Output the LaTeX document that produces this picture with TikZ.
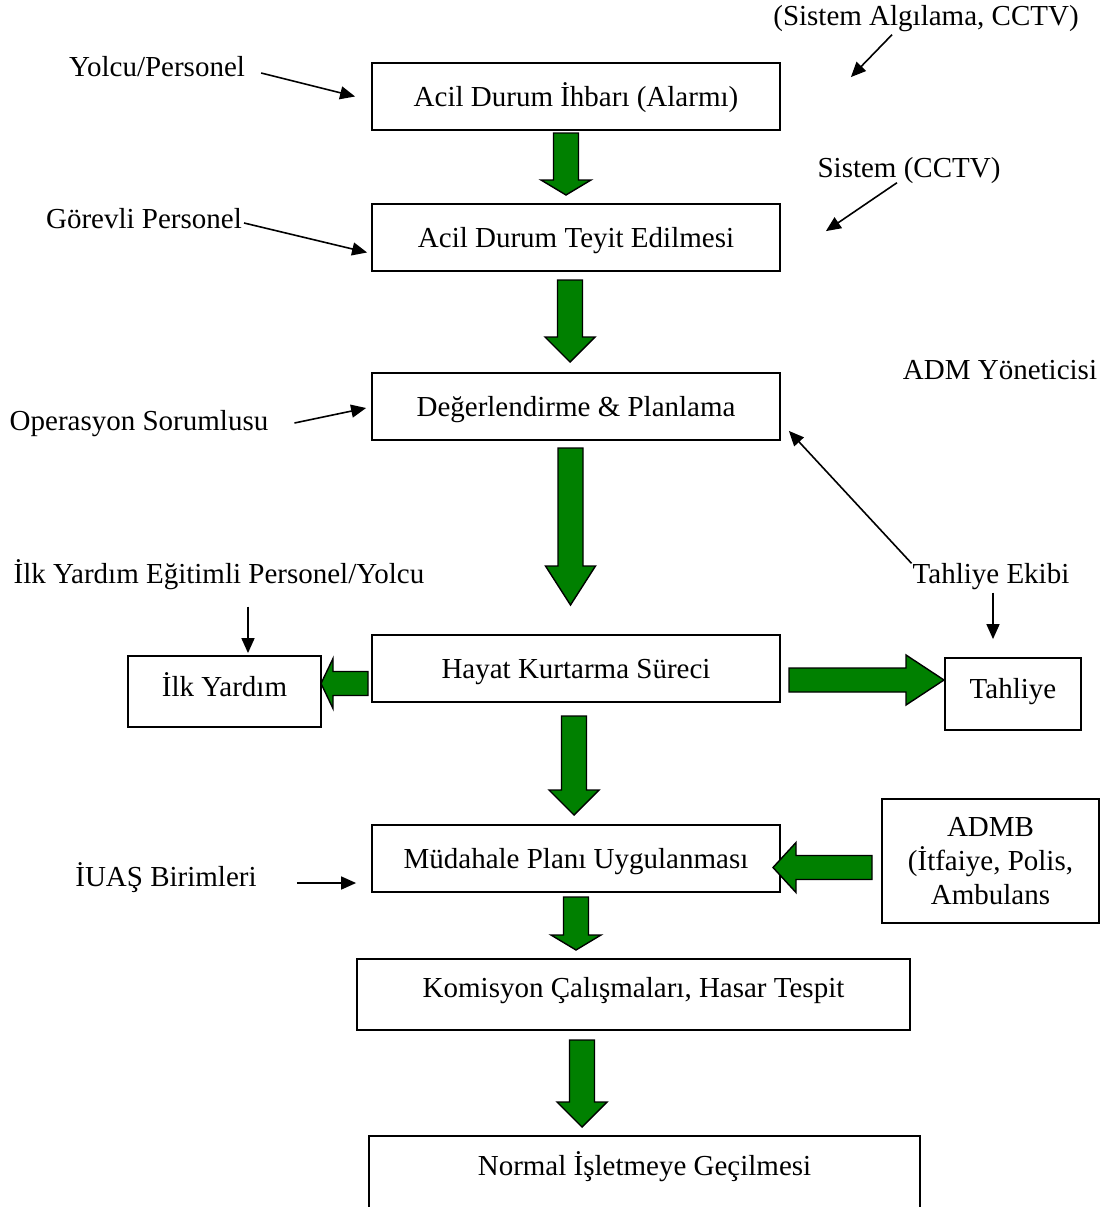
\documentclass[tikz,border=0pt]{standalone}
\usepackage{fontspec}
\setmainfont{Liberation Serif}
\usetikzlibrary{arrows.meta, calc}
\definecolor{arrowgreen}{RGB}{0,128,0}
\tikzstyle{step_box} = [
    draw=black,
    line width=1.8pt,
    inner sep=0pt,
    align=center,
    text height=20pt,
    text depth=7pt
]
\tikzstyle{main_box} = [
    step_box,
    minimum width=408,
    minimum height=67,
    text height=27pt
]
\tikzstyle{side_label} = [
    inner sep=2pt,
    text height=20pt,
    text depth=7pt
]
\tikzstyle{pointer} = [
    line width=1.6pt,
    -{Triangle[length=15pt,width=13pt]}
]
\tikzstyle{green_arrow} = [
    draw=black,
    line width=1.4pt,
    fill=arrowgreen,
    line join=miter
]
% block arrows: x, top, neck, tip  /  y, start, neck, tip
\newcommand{\flowdown}[4]{%
    \draw[green_arrow] (#1-12.5,#2) -- (#1+12.5,#2) -- (#1+12.5,#3) -- (#1+25,#3)
        -- (#1,#4) -- (#1-25,#3) -- (#1-12.5,#3) -- cycle;}
\newcommand{\flowside}[4]{%
    \draw[green_arrow] (#2,#1-12) -- (#3,#1-12) -- (#3,#1-25) -- (#4,#1)
        -- (#3,#1+25) -- (#3,#1+12) -- (#2,#1+12) -- cycle;}

\begin{document}
\begin{tikzpicture}[x=1pt, y=-1pt, font=\fontsize{29}{34}\selectfont]
\useasboundingbox (0,0) rectangle (1113,1207);

% main chain
\node [main_box] (alarm) at (576,96.5) {Acil Durum İhbarı (Alarmı)};
\node [main_box] (teyit) at (576,237.5) {Acil Durum Teyit Edilmesi};
\node [main_box] (plan) at (576,406.5) {Değerlendirme \& Planlama};
\node [main_box] (hayat) at (576,668.5) {Hayat Kurtarma Süreci};
\node [step_box, minimum width=193, minimum height=71, text depth=11pt] (ilkyardim) at (224.5,691.5) {İlk Yardım};
\node [step_box, minimum width=136, minimum height=72, text depth=11pt] (tahliye) at (1013,694) {Tahliye};
\node [main_box] (mudahale) at (576,858.5) {Müdahale Planı Uygulanması};
\node [step_box, minimum width=217, minimum height=124, text height=, text depth=] (admb) at (990.5,861)
    {ADMB\\(İtfaiye, Polis,\\Ambulans};
\node [step_box, minimum width=553, minimum height=71, text depth=14pt] (komisyon) at (633.5,994.5)
    {Komisyon Çalışmaları, Hasar Tespit};
\node [step_box, minimum width=551, minimum height=80, text depth=21pt] (normal) at (644.5,1176)
    {Normal İşletmeye Geçilmesi};

% side labels
\node [side_label] (sistemalg) at (926,19) {(Sistem Algılama, CCTV)};
\node [side_label] (yolcu) at (157,70) {Yolcu/Personel};
\node [side_label] (sistem) at (909,171) {Sistem (CCTV)};
\node [side_label] (gorevli) at (144,222) {Görevli Personel};
\node [side_label] (admyon) at (1000,373) {ADM Yöneticisi};
\node [side_label] (operasyon) at (139,424) {Operasyon Sorumlusu};
\node [side_label] (ilkegitim) at (219,577) {İlk Yardım Eğitimli Personel/Yolcu};
\node [side_label] (ekip) at (991,577) {Tahliye Ekibi};
\node [side_label] (iuas) at (166,880) {İUAŞ Birimleri};

% thin arrows
\draw [pointer] ($(yolcu.east)+(14,3)$) -- ($(alarm.west)+(-16,0)$);
\draw [pointer] ($(sistemalg.south)+(-34,0)$) -- ($(alarm.north east)+(70,15)$);
\draw [pointer] ($(gorevli.east)+(0,1)$) -- ($(teyit.west)+(-4,15)$);
\draw [pointer] ($(sistem.south)+(-12,-4)$) -- ($(teyit.north east)+(45,28)$);
\draw [pointer] ($(operasyon.east)+(24,-1)$) -- ($(plan.west)+(-5,1.5)$);
\draw [pointer] ($(ekip.north west)+(1,2)$) -- ($(plan.south east)+(8,-10)$);
\draw [pointer] ($(ekip.south)+(2,0)$) -- ($(ekip.south |- tahliye.north)+(2,-18)$);
\draw [pointer] ($(ilkegitim.south)+(29,14)$) -- ($(ilkegitim.south |- ilkyardim.north)+(29,-2)$);
\draw [pointer] ($(iuas.east)+(38,3)$) -- ($(mudahale.west)+(-15,24.5)$);

% green block arrows
\flowdown{566}{133}{180}{195}
\flowdown{570}{280}{337}{362}
\flowdown{570.5}{448}{566}{605}
\flowdown{574}{716}{790}{815}
\flowdown{576}{897}{935}{950}
\flowdown{582}{1040}{1102}{1127}
\flowside{683.5}{368}{333}{321}
\flowside{680}{789}{906}{944}
\flowside{867.5}{872}{796}{773}
\end{tikzpicture}
\end{document}
